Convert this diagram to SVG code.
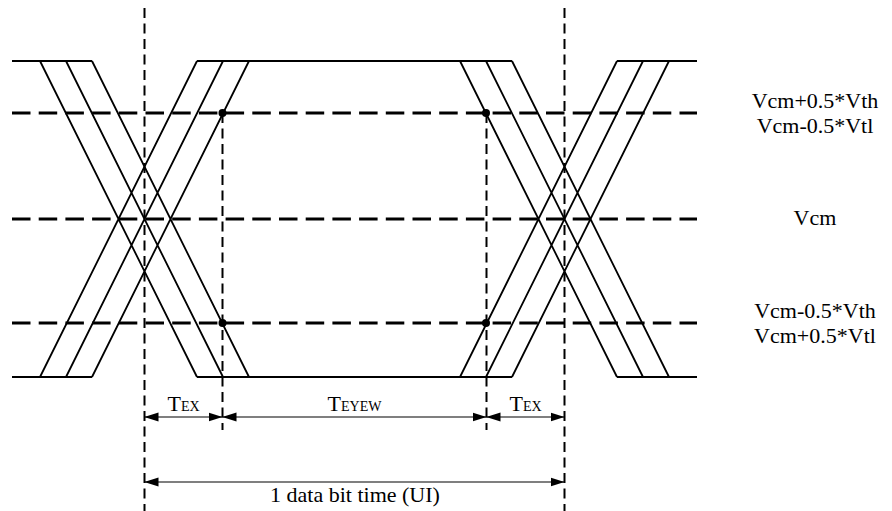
<svg xmlns="http://www.w3.org/2000/svg" width="892" height="511" viewBox="0 0 892 511">
<style>
.wave{stroke:#000;stroke-width:1.8;fill:none;stroke-linecap:butt}
.hdash{stroke:#000;stroke-width:3;stroke-dasharray:18.5 8.2;fill:none}
.vdash{stroke:#000;stroke-width:2;stroke-dasharray:10 5.5;fill:none}
.dim{stroke:#000;stroke-width:1.2;fill:none;marker-start:url(#ah);marker-end:url(#ah)}
.lbl{font-family:"Liberation Serif","Times New Roman",serif;font-size:22px;fill:#000}
.big{font-size:22px}
.sub{font-size:14px}
</style>
<defs>
<marker id="ah" markerUnits="userSpaceOnUse" markerWidth="14" markerHeight="10" refX="14" refY="5" orient="auto-start-reverse" viewBox="0 0 14 10">
<path d="M0,0.5 L14,5 L0,9.5 z" fill="#000"/>
</marker>
</defs>
<rect width="892" height="511" fill="#fff"/>
<g id="levels">
<line class="hdash" x1="12" y1="113" x2="697" y2="113"/>
<line class="hdash" x1="12" y1="219" x2="697" y2="219"/>
<line class="hdash" x1="12" y1="323" x2="697" y2="323"/>
</g>
<g id="waveform">
<path class="wave" d="M12,61 H92 M197,61 H512 M617,61 H697 M12,377 H92 M197,377 H512 M617,377 H697"/>
<path class="wave" d="M40,61 L197,377 M66,61 L223,377 M92,61 L249,377 M40,377 L197,61 M66,377 L223,61 M92,377 L249,61"/>
<path class="wave" d="M460,61 L617,377 M486,61 L643,377 M512,61 L669,377 M460,377 L617,61 M486,377 L643,61 M512,377 L669,61"/>
</g>
<g id="markers">
<line class="vdash" x1="144.5" y1="8" x2="144.5" y2="511"/>
<line class="vdash" x1="564.5" y1="8" x2="564.5" y2="511"/>
<line class="vdash" x1="222.5" y1="113" x2="222.5" y2="430"/>
<line class="vdash" x1="486.5" y1="113" x2="486.5" y2="430"/>
<circle cx="222.5" cy="113" r="4"/>
<circle cx="222.5" cy="323" r="4"/>
<circle cx="486" cy="113" r="4"/>
<circle cx="486" cy="323" r="4"/>
</g>
<g id="connectors">
<line class="dim" x1="144.5" y1="417" x2="222.5" y2="417"/>
<line class="dim" x1="222.5" y1="417" x2="486.5" y2="417"/>
<line class="dim" x1="486.5" y1="417" x2="564.5" y2="417"/>
<line class="dim" x1="144.5" y1="482" x2="564.5" y2="482"/>
</g>
<g id="labels" class="lbl">
<text x="183.5" y="411" text-anchor="middle"><tspan class="big">T</tspan><tspan class="sub">EX</tspan></text>
<text x="354.5" y="411" text-anchor="middle"><tspan class="big">T</tspan><tspan class="sub">EYEW</tspan></text>
<text x="525.5" y="411" text-anchor="middle"><tspan class="big">T</tspan><tspan class="sub">EX</tspan></text>
<text x="355" y="502" text-anchor="middle">1 data bit time (UI)</text>
<text x="815" y="108" text-anchor="middle">Vcm+0.5*Vth</text>
<text x="815" y="133" text-anchor="middle">Vcm-0.5*Vtl</text>
<text x="815" y="225" text-anchor="middle">Vcm</text>
<text x="815" y="318" text-anchor="middle">Vcm-0.5*Vth</text>
<text x="815" y="343" text-anchor="middle">Vcm+0.5*Vtl</text>
</g>
</svg>
